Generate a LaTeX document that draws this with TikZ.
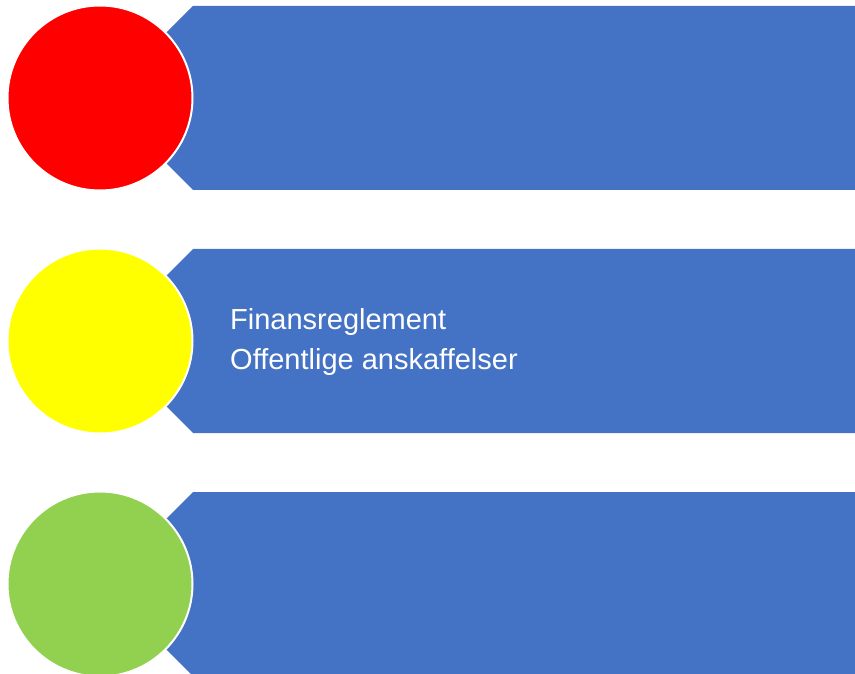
\documentclass[tikz,border=0pt]{standalone}
\usepackage{fontspec}
\setmainfont{Liberation Sans}
\definecolor{banblue}{HTML}{4472C4}
\definecolor{cred}{HTML}{FF0000}
\definecolor{cyellow}{HTML}{FFFF00}
\definecolor{cgreen}{HTML}{92D050}
\begin{document}
\begin{tikzpicture}[x=1pt,y=-1pt,
  banner/.style={fill=banblue,draw=none},
  dot/.style={circle,draw=white,line width=2pt,minimum size=185pt,inner sep=0pt},
  label/.style={anchor=base west,text=white,font=\fontsize{29}{35}\selectfont,inner sep=0pt}]
\useasboundingbox (0,0) rectangle (855,674);
\foreach \i/\y in {1/6,2/249,3/492}{
  \path[banner] (193,\y) -- (860,\y) -- (860,\y+184) -- (193,\y+184) -- (101,\y+92) -- cycle;
}
\node[dot,fill=cred] (c1) at (100,98) {};
\node[dot,fill=cyellow] (c2) at (100,341) {};
\node[dot,fill=cgreen] (c3) at (100,584) {};
\node[label] (t1) at (230,329) {Finansreglement};
\node[label] (t2) at (230,369) {Offentlige anskaffelser};
\end{tikzpicture}
\end{document}
